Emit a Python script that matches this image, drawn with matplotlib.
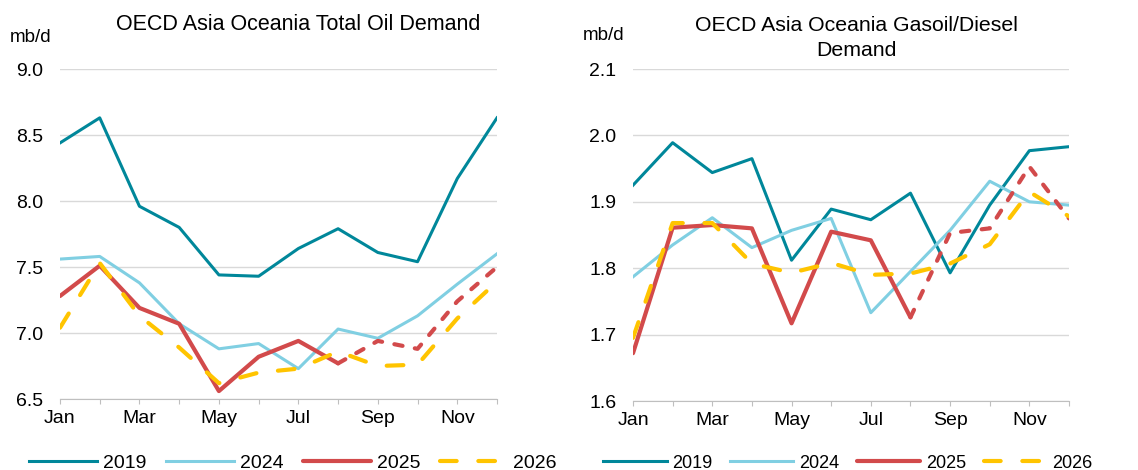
import matplotlib.pyplot as plt

plt.rcParams['font.family'] = ['Liberation Sans', 'DejaVu Sans']

months = ['Jan', 'Feb', 'Mar', 'Apr', 'May', 'Jun', 'Jul', 'Aug', 'Sep', 'Oct', 'Nov', 'Dec']

# Total oil demand, mb/d
total_2019 = [8.44, 8.63, 7.96, 7.80, 7.44, 7.43, 7.64, 7.79, 7.61, 7.54, 8.17, 8.63]
total_2024 = [7.56, 7.58, 7.38, 7.07, 6.88, 6.92, 6.73, 7.03, 6.96, 7.13, 7.37, 7.60]
total_2025 = [7.28, 7.51, 7.19, 7.07, 6.56, 6.82, 6.94, 6.77, 6.94, 6.88, 7.24, 7.50]
total_2026 = [7.04, 7.53, 7.13, 6.89, 6.62, 6.70, 6.73, 6.86, 6.75, 6.76, 7.11, 7.39]

# Gasoil/diesel demand, mb/d
diesel_2019 = [1.925, 1.989, 1.944, 1.965, 1.812, 1.889, 1.873, 1.913, 1.793, 1.895, 1.977, 1.983]
diesel_2024 = [1.787, 1.835, 1.876, 1.831, 1.857, 1.875, 1.733, 1.795, 1.857, 1.931, 1.900, 1.895]
diesel_2025 = [1.672, 1.861, 1.865, 1.860, 1.717, 1.855, 1.842, 1.726, 1.853, 1.860, 1.953, 1.875]
diesel_2026 = [1.695, 1.868, 1.868, 1.807, 1.793, 1.808, 1.790, 1.792, 1.807, 1.836, 1.915, 1.878]

last_actual = 7  # 2025 actuals through Aug, forecast after

c2019 = '#00879A'
c2024 = '#80CFE2'
c2025 = '#D24A4B'
c2026 = '#FFC400'

W, H = 1138, 470
fig = plt.figure(figsize=(W / 100, H / 100), dpi=100)


def draw(rect, s19, s24, s25, s26, ylim, yticks, fmt):
    ax = fig.add_axes(rect)
    x = list(range(12))
    ax.plot(x, s19, color=c2019, lw=2.2, label='2019', zorder=3)
    ax.plot(x, s24, color=c2024, lw=2.2, label='2024', zorder=3)
    ax.plot(x[:last_actual + 1], s25[:last_actual + 1], color=c2025, lw=3.0,
            label='2025', zorder=4, solid_capstyle='round')
    ax.plot(x[last_actual:], s25[last_actual:], color=c2025, lw=3.0, zorder=4,
            ls=(0, (2, 3)), dash_capstyle='round')
    ax.plot(x, s26, color=c2026, lw=3.0, label='2026', zorder=5,
            ls=(0, (4, 5.2)), dash_capstyle='round')
    ax.set_xlim(0, 11)
    ax.set_ylim(*ylim)
    ax.set_yticks(yticks)
    ax.set_yticklabels([fmt.format(v) for v in yticks])
    ax.set_xticks(x)
    ax.set_xticklabels([m if i % 2 == 0 else '' for i, m in enumerate(months)])
    ax.grid(axis='y', color='#D9D9D9', lw=1)
    ax.set_axisbelow(True)
    for s in ['top', 'right', 'left']:
        ax.spines[s].set_visible(False)
    ax.spines['bottom'].set_color('#BFBFBF')
    ax.tick_params(axis='x', length=3.6, color='#BFBFBF', labelsize=14, pad=4)
    ax.tick_params(axis='y', length=0, labelsize=14, pad=12)
    return ax


ax1 = draw([60 / W, 1 - 399 / H, 437 / W, 330 / H],
           total_2019, total_2024, total_2025, total_2026,
           (6.5, 9.0), [6.5, 7.0, 7.5, 8.0, 8.5, 9.0], '{:.1f}')
ax2 = draw([633 / W, 1 - 401 / H, 436 / W, 332 / H],
           diesel_2019, diesel_2024, diesel_2025, diesel_2026,
           (1.6, 2.1), [1.6, 1.7, 1.8, 1.9, 2.0, 2.1], '{:.1f}')

fig.text(298 / W, 1 - 25 / H, 'OECD Asia Oceania Total Oil Demand',
         ha='center', va='center', fontsize=15.5)
fig.text(856 / W, 1 - 38 / H, 'OECD Asia Oceania Gasoil/Diesel\nDemand',
         ha='center', va='center', fontsize=15.3, multialignment='center',
         linespacing=1.35)
fig.text(10 / W, 1 - 42 / H, 'mb/d', ha='left', va='baseline', fontsize=13.5)
fig.text(583 / W, 1 - 40 / H, 'mb/d', ha='left', va='baseline', fontsize=13.5)

for ax, cx, fs in [(ax1, 293, 14), (ax2, 848, 13)]:
    ax.legend(loc='center', bbox_to_anchor=(cx / W, 7 / H),
              bbox_transform=fig.transFigure, ncol=4, frameon=False,
              fontsize=fs, handlelength=3.5, handletextpad=0.3,
              columnspacing=1.0, borderaxespad=0, borderpad=0)

fig.savefig('out.png', dpi=100)
